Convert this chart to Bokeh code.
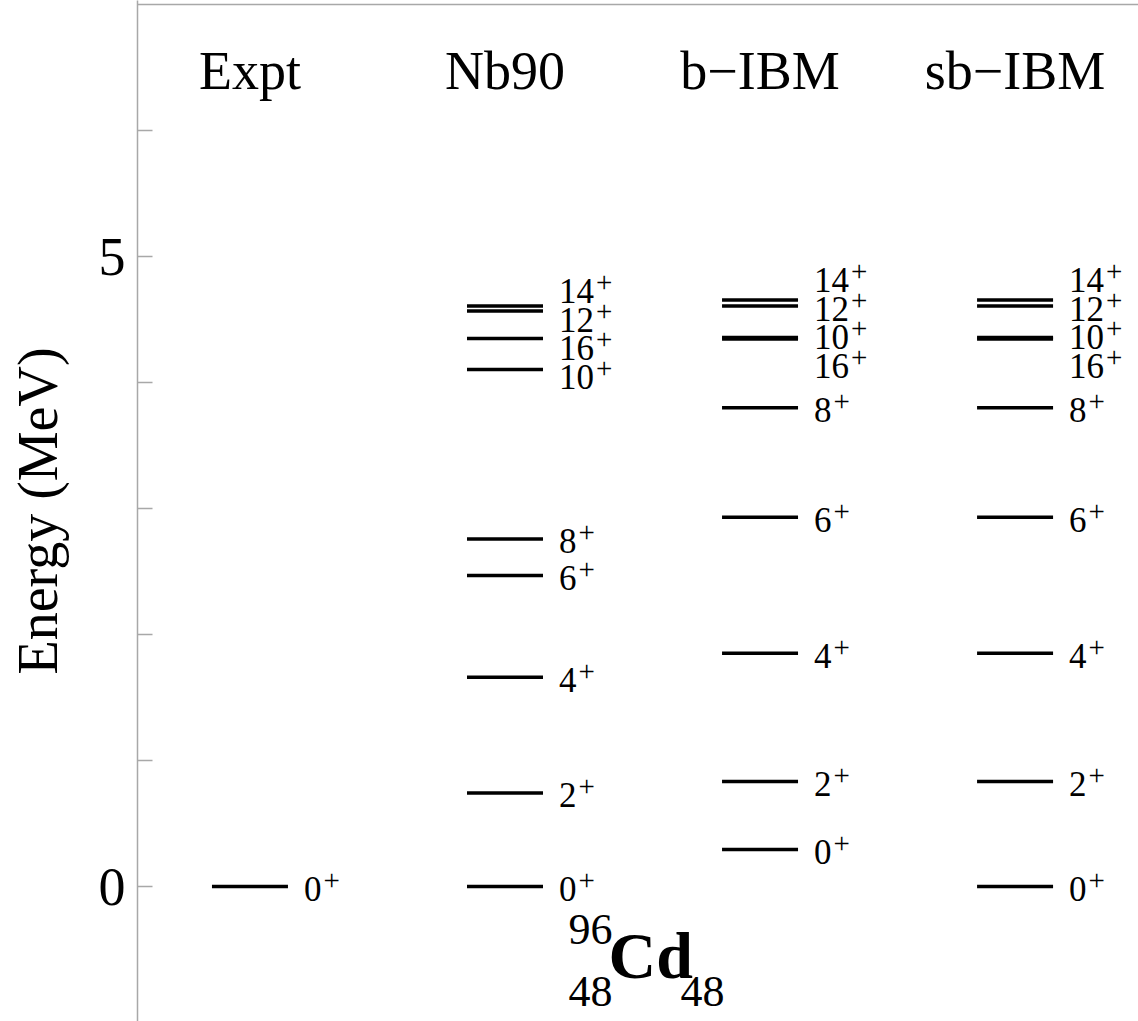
from bokeh.plotting import figure
from bokeh.models import Range1d, FixedTicker, Span, ColumnDataSource
from bokeh.core.properties import value
from bokeh.embed import file_html
from bokeh.resources import INLINE

# ---------------- data ----------------
columns = ["Expt", "Nb90", "b\u2212IBM", "sb\u2212IBM"]

expt_J = ["0"]
expt_E = [0.0]

nb90_J = ["0", "2", "4", "6", "8", "10", "16", "12", "14"]
nb90_E = [0.0, 0.743, 1.661, 2.468, 2.759, 4.103, 4.349, 4.567, 4.607]

bibm_J = ["0", "2", "4", "6", "8", "16", "10", "12", "14"]
bibm_E = [0.294, 0.833, 1.852, 2.931, 3.799, 4.345, 4.357, 4.607, 4.655]

sbibm_J = ["0", "2", "4", "6", "8", "16", "10", "12", "14"]
sbibm_E = [0.0, 0.833, 1.852, 2.931, 3.799, 4.345, 4.357, 4.607, 4.655]

y_ticks = [0, 1, 2, 3, 4, 5, 6]
y_tick_labels = {0: "0", 5: "5"}

series = [(expt_J, expt_E), (nb90_J, nb90_E), (bibm_J, bibm_E), (sbibm_J, sbibm_E)]

# ---------------- layout ----------------
W, H = 1138, 1021
LEFT = 137
y0, y1 = -1.071, 7.032
x0, x1 = 0.559, 4.484
PX = H / (y1 - y0)          # pixels per MeV
PXX = (W - LEFT) / (x1 - x0)  # pixels per column unit
FONT = "Liberation Serif"
GRAY = "#a8a8a8"
SHIFT = 13 / PX  # compensate baseline rendering

p = figure(width=W, height=H, output_backend="svg", toolbar_location=None,
           x_range=Range1d(x0, x1), y_range=Range1d(y0, y1),
           min_border_left=LEFT, min_border_right=0, min_border_top=0, min_border_bottom=0)
p.xaxis.visible = False
p.grid.visible = False
p.outline_line_color = None
p.background_fill_color = "white"
p.border_fill_color = "white"

ax = p.yaxis[0]
ax.ticker = FixedTicker(ticks=y_ticks, minor_ticks=[])
ax.major_label_overrides = {t: y_tick_labels.get(t, "") for t in y_ticks}
ax.axis_line_color = GRAY
ax.axis_line_width = 1.5
ax.major_tick_line_color = GRAY
ax.major_tick_line_width = 1.5
ax.major_tick_in = 15
ax.major_tick_out = 0
ax.minor_tick_line_color = None
ax.major_label_text_font = FONT
ax.major_label_text_font_size = "54px"
ax.major_label_text_color = "black"
ax.major_label_standoff = 12
ax.axis_label = "Energy (MeV)"
ax.axis_label_text_font = FONT
ax.axis_label_text_font_size = "56px"
ax.axis_label_text_font_style = "normal"
ax.axis_label_text_color = "black"
ax.axis_label_standoff = 27

p.add_layout(Span(location=7.0, dimension="width", line_color=GRAY, line_width=1.5))

HALF = 38 / PXX
GAP = 28.6 / PX


def place(desired, gap):
    order = sorted(range(len(desired)), key=lambda i: desired[i])
    clusters = [[i] for i in order]

    def positions(cl):
        c = sum(desired[i] for i in cl) / len(cl)
        m = len(cl)
        return [c + (k - (m - 1) / 2) * gap for k in range(m)]

    changed = True
    while changed:
        changed = False
        for k in range(len(clusters) - 1):
            a = positions(clusters[k])
            b = positions(clusters[k + 1])
            if a[-1] + gap > b[0] + 1e-9:
                clusters[k] = clusters[k] + clusters[k + 1]
                del clusters[k + 1]
                changed = True
                break
    out = [0.0] * len(desired)
    for cl in clusters:
        for i, pos in zip(cl, positions(cl)):
            out[i] = pos
    return out


for ci, (J, E) in enumerate(series):
    xc = ci + 1
    src = ColumnDataSource(dict(x0=[xc - HALF] * len(E), x1=[xc + HALF] * len(E), y=E))
    p.segment(x0="x0", x1="x1", y0="y", y1="y", source=src, line_color="black",
              line_width=3.5, line_cap="butt")
    lab = place([e - 4 / PX for e in E], GAP)
    xs = [xc + HALF] * len(E)
    p.text(x=xs, y=[v - 11.5 / PX + SHIFT for v in lab], text=J, x_offset=16,
           text_font=value(FONT), text_font_size="35px", text_align="left",
           text_baseline="alphabetic", text_color="black")
    for j, v in zip(J, lab):
        p.text(x=[xc + HALF], y=[v - 3 / PX + SHIFT], text=["+"], x_offset=16 + 17.5 * len(j) + 2,
               text_font=value(FONT), text_font_size="29px", text_align="left",
               text_baseline="alphabetic", text_color="black")

# column titles
p.text(x=[1, 2, 3, 4], y=[6.37 + SHIFT] * 4, text=columns, text_font=value(FONT),
       text_font_size="54px", text_align="center", text_baseline="alphabetic",
       text_color="black")

# nucleus label  96/48 Cd 48
cx = 2.406
p.text(x=[cx], y=[-0.65 + SHIFT], text=["Cd"], text_font=value(FONT), text_font_style="bold",
       text_font_size="66px", text_align="left", text_baseline="alphabetic", text_color="black")
p.text(x=[cx + 0.016], y=[-0.445 + SHIFT], text=["96"], text_font=value(FONT),
       text_font_size="44px", text_align="right", text_baseline="alphabetic", text_color="black")
p.text(x=[cx + 0.016], y=[-0.94 + SHIFT], text=["48"], text_font=value(FONT),
       text_font_size="44px", text_align="right", text_baseline="alphabetic", text_color="black")
p.text(x=[cx + 0.282], y=[-0.94 + SHIFT], text=["48"], text_font=value(FONT),
       text_font_size="44px", text_align="left", text_baseline="alphabetic", text_color="black")

open("out.html", "w").write(file_html(p, INLINE))
